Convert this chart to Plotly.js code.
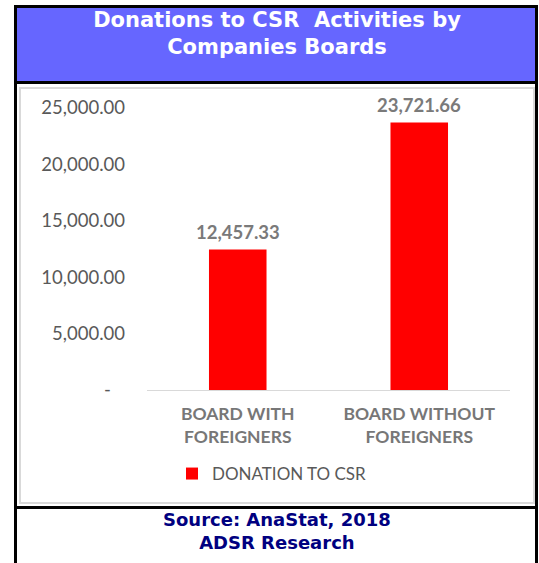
<!DOCTYPE html>
<html>
<head>
<meta charset="utf-8">
<script src="https://cdn.plot.ly/plotly-3.0.1.min.js"></script>
<style>html,body{margin:0;padding:0;background:#fff;}#chart{width:539px;height:563px;}</style>
</head>
<body>
<div id="chart"></div>
<script>
// ---- data ----
var categories = ["BOARD WITH<br>FOREIGNERS", "BOARD WITHOUT<br>FOREIGNERS"];
var donations = [12457.33, 23721.66];
var seriesName = "DONATION TO CSR";
var yTickVals = [0, 5000, 10000, 15000, 20000, 25000];
var yTickText = ["-\u00a0\u00a0\u00a0", "5,000.00", "10,000.00", "15,000.00", "20,000.00", "25,000.00"];
var titleLines = ["Donations to CSR\u00a0\u00a0Activities by", "Companies Boards"];
var footerLines = ["Source: AnaStat, 2018", "ADSR Research"];

// ---- layout helpers (pixel -> paper) ----
var W = 539, H = 563;
var L = 147, R = 510, T = 108, B = 390;
function px(x){ return (x - L) / (R - L); }
function py(y){ return (B - y) / (B - T); }
function rect(x0, y0, x1, y1, fill){
  return {type:'rect', xref:'paper', yref:'paper', x0:px(x0), x1:px(x1), y0:py(y1), y1:py(y0),
          fillcolor:fill, line:{width:0}, layer:'below'};
}

function fmt(v){ return v.toLocaleString('en-US', {minimumFractionDigits:2, maximumFractionDigits:2}); }

var trace = {
  type:'bar', x:categories, y:donations, name:seriesName,
  marker:{color:'#FF0000'}, hoverinfo:'x+y', cliponaxis:false
};

var annotations = donations.map(function(v, i){
  return {x:categories[i], y:v, xref:'x', yref:'y', text:fmt(v), showarrow:false,
          yanchor:'bottom', yshift:4,
          font:{family:'Lato, sans-serif', size:18.5, color:'#7a7a7a', weight:'bold'}};
});
annotations.push({xref:'paper', yref:'paper', x:px(277), y:py(531), xanchor:'center', yanchor:'middle',
  text:footerLines.join('<br>'), showarrow:false,
  font:{family:'DejaVu Sans, Verdana, sans-serif', size:18, color:'#000080', weight:'bold'}});

var shapes = [
  rect(17, 8, 535, 81, '#6666FF'),
  rect(14, 5, 538, 8, '#000000'),
  rect(14, 5, 17, 563, '#000000'),
  rect(535, 5, 538, 563, '#000000'),
  rect(14, 81, 538, 84, '#000000'),
  rect(14, 506, 538, 509, '#000000'),
  {type:'rect', xref:'paper', yref:'paper', x0:px(20), x1:px(534), y0:py(503), y1:py(88),
   line:{color:'#d9d9d9', width:2}, fillcolor:'rgba(0,0,0,0)', layer:'below'}
];

var layout = {
  width:W, height:H,
  margin:{l:L, r:W-R, t:T, b:H-B, pad:0},
  paper_bgcolor:'#ffffff', plot_bgcolor:'rgba(0,0,0,0)',
  title:{text:titleLines.join('<br>'), x:277/W, xanchor:'center', xref:'container',
         y:1-27/H, yanchor:'middle', yref:'container',
         font:{family:'DejaVu Sans, Verdana, sans-serif', size:21, color:'#ffffff', weight:'bold'}},
  bargap:0.683,
  xaxis:{type:'category', showline:true, linecolor:'#d9d9d9', linewidth:1, showgrid:false,
         zeroline:false, ticks:'', ticklabelstandoff:8,
         tickfont:{family:'Lato, sans-serif', size:17.5, color:'#777777', weight:'bold'}, fixedrange:true},
  yaxis:{range:[0,25000], tickvals:yTickVals, ticktext:yTickText, showgrid:false, zeroline:false,
         showline:false, ticks:'', ticklabelstandoff:21,
         tickfont:{family:'Lato, sans-serif', size:18.5, color:'#595959'}, fixedrange:true},
  showlegend:true,
  legend:{orientation:'h', x:px(172), xanchor:'left', y:py(474), yanchor:'middle',
          font:{family:'Lato, sans-serif', size:17, color:'#595959'}, bgcolor:'rgba(0,0,0,0)'},
  shapes:shapes,
  annotations:annotations
};

Plotly.newPlot('chart', [trace], layout, {displayModeBar:false, staticPlot:false});
</script>
</body>
</html>
